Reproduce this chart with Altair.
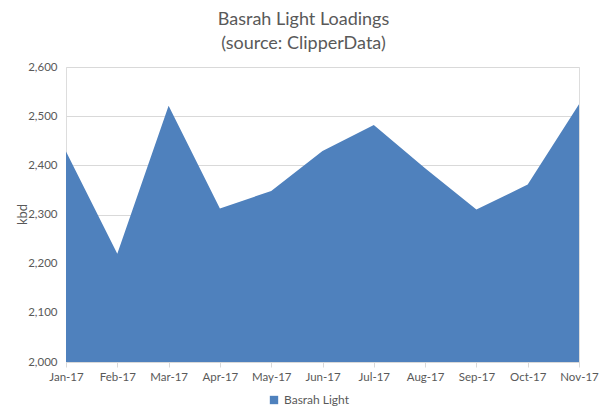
import altair as alt
import pandas as pd

months = ["Jan-17", "Feb-17", "Mar-17", "Apr-17", "May-17", "Jun-17",
          "Jul-17", "Aug-17", "Sep-17", "Oct-17", "Nov-17"]
loadings = [2428, 2220, 2521, 2312, 2348, 2429, 2482, 2394, 2310, 2361, 2524]
series = ["Basrah Light"] * len(months)

df = pd.DataFrame({"month": months, "kbd": loadings, "series": series})

FONT = "Lato"
GRAY = "#595959"

chart = alt.Chart(df).mark_area(opacity=1).encode(
    x=alt.X("month:O", sort=months,
            scale=alt.Scale(type="point", padding=0),
            axis=alt.Axis(title=None, labelAngle=0, labelPadding=4,
                          tickSize=5, tickColor="#d9d9d9",
                          domainColor="#d9d9d9", labelFontSize=11.5,
                          labelColor=GRAY, labelFont=FONT, grid=False,
                          zindex=1)),
    y=alt.Y("kbd:Q", scale=alt.Scale(domain=[2000, 2600], nice=False, zero=False,
                                     clamp=True),
            axis=alt.Axis(title="kbd", values=[2000, 2100, 2200, 2300, 2400, 2500, 2600],
                          format=",.0f", domain=False, ticks=False, labelPadding=9,
                          labelFontSize=11.5, labelColor=GRAY, labelFont=FONT,
                          gridColor="#d9d9d9", titleFontSize=13, titleColor=GRAY,
                          titleFont=FONT, titleFontWeight="normal",
                          titleX=-44, titleY=147, titleAngle=-90,
                          titleAlign="center", titleBaseline="middle")),
    color=alt.Color("series:N",
                    scale=alt.Scale(range=["#4F81BD"]),
                    legend=alt.Legend(title=None, orient="none",
                                      legendX=202, legendY=327,
                                      symbolType="square", symbolSize=70,
                                      symbolStrokeWidth=0,
                                      labelFontSize=12, labelColor=GRAY,
                                      labelFont=FONT)),
).properties(
    width=513,
    height=295,
    title=alt.TitleParams(text=["Basrah Light Loadings", "(source: ClipperData)"],
                          fontSize=18, font=FONT, color=GRAY, fontWeight="normal",
                          anchor="middle", dx=-19, offset=8, lineHeight=24),
    autosize=alt.AutoSizeParams(type="none"),
    padding={"left": 58, "top": 59, "right": 20, "bottom": 46},
).configure_view(stroke=None).configure(background="white")

chart.save("out.html", embed_options={"renderer": "svg", "actions": False})
